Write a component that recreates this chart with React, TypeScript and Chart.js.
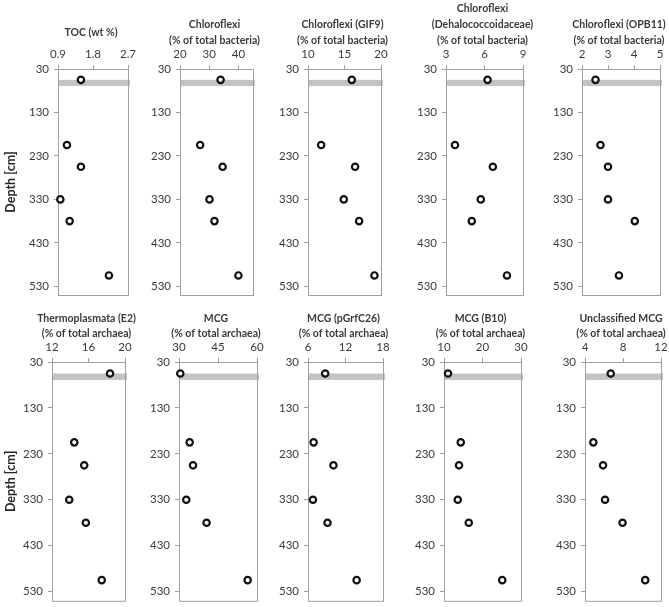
import React, { useEffect, useRef } from "react";
import { Chart, registerables } from "chart.js";

Chart.register(...registerables);

// ---- data ----
const depths = [55, 205, 255, 330, 380, 505];
const depthTicks = [30, 130, 230, 330, 430, 530];
const depthMin = 30;
const depthMax = 550;
const bandDepth = [55, 69];

const tocValues = [1.49, 1.13, 1.49, 0.96, 1.2, 2.21];
const chloroflexiValues = [33.9, 26.9, 34.6, 30.1, 31.8, 40.0];
const gif9Values = [16.0, 11.8, 16.45, 14.9, 17.0, 19.1];
const dehaloValues = [6.24, 3.7, 6.65, 5.71, 5.01, 7.75];
const opb11Values = [2.52, 2.71, 3.0, 3.0, 4.03, 3.42];
const thermoValues = [18.36, 14.44, 15.53, 13.89, 15.71, 17.45];
const mcgValues = [30.5, 34.1, 35.4, 32.8, 40.6, 56.4];
const pgrfValues = [8.75, 6.9, 10.07, 6.79, 9.12, 13.78];
const b10Values = [11.04, 14.35, 13.9, 13.57, 16.43, 25.13];
const unclassValues = [6.71, 4.88, 5.9, 6.11, 7.95, 10.34];

const tocTicks = [0.9, 1.8, 2.7];
const chloroflexiTicks = [20, 30, 40];
const gif9Ticks = [10, 15, 20];
const dehaloTicks = [3, 6, 9];
const opb11Ticks = [2, 3, 4, 5];
const thermoTicks = [12, 16, 20];
const mcgTicks = [30, 45, 60];
const pgrfTicks = [6, 12, 18];
const b10Ticks = [10, 20, 30];
const unclassTicks = [4, 8, 12];

const tocRange = [0.9, 2.7];
const chloroflexiRange = [20, 45];
const gif9Range = [10, 20];
const dehaloRange = [3, 9];
const opb11Range = [2, 5];
const thermoRange = [12, 20];
const mcgRange = [30, 60];
const pgrfRange = [6, 18];
const b10Range = [10, 30];
const unclassRange = [4, 12];

const titles = {
  toc: ["TOC (wt %)"],
  chl: ["Chloroflexi", "(% of total bacteria)"],
  gif9: ["Chloroflexi (GIF9)", "(% of total bacteria)"],
  deh: ["Chloroflexi", "(Dehalococcoidaceae)", "(% of total bacteria)"],
  opb: ["Chloroflexi (OPB11)", "(% of total bacteria)"],
  thermo: ["Thermoplasmata (E2)", "(% of total archaea)"],
  mcg: ["MCG", "(% of total archaea)"],
  pgrf: ["MCG (pGrfC26)", "(% of total archaea)"],
  b10: ["MCG (B10)", "(% of total archaea)"],
  unc: ["Unclassified MCG", "(% of total archaea)"],
};
const depthTitle = "Depth [cm]";

// ---- layout ----
const W = 669;
const H = 607;
const ROW1 = { top: 69, bottom: 295 };
const ROW2 = { top: 362, bottom: 602 };

type Panel = {
  key: string;
  values: number[];
  ticks: number[];
  range: number[];
  title: string[];
  left: number;
  right: number;
  row: { top: number; bottom: number };
  depthLabel: boolean;
  titleGap: number;
};

const panels: Panel[] = [
  { key: "toc", values: tocValues, ticks: tocTicks, range: tocRange, title: titles.toc, left: 58, right: 128, row: ROW1, depthLabel: true, titleGap: 36 },
  { key: "chl", values: chloroflexiValues, ticks: chloroflexiTicks, range: chloroflexiRange, title: titles.chl, left: 180, right: 253, row: ROW1, depthLabel: false, titleGap: 28 },
  { key: "gif9", values: gif9Values, ticks: gif9Ticks, range: gif9Range, title: titles.gif9, left: 308, right: 381, row: ROW1, depthLabel: false, titleGap: 28 },
  { key: "deh", values: dehaloValues, ticks: dehaloTicks, range: dehaloRange, title: titles.deh, left: 446, right: 523, row: ROW1, depthLabel: false, titleGap: 28 },
  { key: "opb", values: opb11Values, ticks: opb11Ticks, range: opb11Range, title: titles.opb, left: 582, right: 660, row: ROW1, depthLabel: false, titleGap: 28 },
  { key: "thermo", values: thermoValues, ticks: thermoTicks, range: thermoRange, title: titles.thermo, left: 52, right: 125, row: ROW2, depthLabel: true, titleGap: 28 },
  { key: "mcg", values: mcgValues, ticks: mcgTicks, range: mcgRange, title: titles.mcg, left: 179, right: 257, row: ROW2, depthLabel: false, titleGap: 28 },
  { key: "pgrf", values: pgrfValues, ticks: pgrfTicks, range: pgrfRange, title: titles.pgrf, left: 308, right: 383, row: ROW2, depthLabel: false, titleGap: 28 },
  { key: "b10", values: b10Values, ticks: b10Ticks, range: b10Range, title: titles.b10, left: 444, right: 521, row: ROW2, depthLabel: false, titleGap: 28 },
  { key: "unc", values: unclassValues, ticks: unclassTicks, range: unclassRange, title: titles.unc, left: 585, right: 661, row: ROW2, depthLabel: false, titleGap: 28 },
];

const AXIS_COLOR = "#a0a0a0";
const TEXT_COLOR = "#3a3a3a";
const BAND_COLOR = "#c3c3c3";
const XH = 24;
const YW = 40;

const decorPlugin = {
  id: "panelDecor",
  beforeDatasetsDraw(chart: any, _args: any, opts: any) {
    const { ctx, chartArea: a, scales } = chart;
    const y1 = scales.y.getPixelForValue(bandDepth[0]);
    const y2 = scales.y.getPixelForValue(bandDepth[1]);
    ctx.save();
    ctx.fillStyle = BAND_COLOR;
    ctx.fillRect(a.left + 1, y1, a.right - a.left + 1, y2 - y1);
    ctx.strokeStyle = AXIS_COLOR;
    ctx.lineWidth = 1;
    ctx.strokeRect(a.left + 0.5, a.top + 0.5, a.right - a.left, a.bottom - a.top);
    ctx.restore();
  },
  afterDraw(chart: any, _args: any, opts: any) {
    const { ctx, chartArea: a } = chart;
    ctx.save();
    ctx.fillStyle = TEXT_COLOR;
    ctx.font = "bold 10.5px Lato";
    ctx.textAlign = "center";
    ctx.textBaseline = "middle";
    const lines: string[] = opts.title || [];
    const n = lines.length;
    const cx = (a.left + a.right) / 2 - 2;
    lines.forEach((t, i) => {
      const y = a.top - opts.titleGap - (n - 1 - i) * opts.lineSpacing;
      ctx.fillText(t, cx, y);
    });
    if (opts.depthLabel) {
      ctx.translate(11, (a.top + a.bottom) / 2);
      ctx.rotate(-Math.PI / 2);
      ctx.fillStyle = "#262626";
      ctx.font = "bold 12.5px Lato";
      ctx.fillText(depthTitle, 0, 0);
    }
    ctx.restore();
  },
};

function PanelChart({ p }: { p: Panel }) {
  const ref = useRef<HTMLCanvasElement | null>(null);
  useEffect(() => {
    if (!ref.current) return;
    const zeroPad = (s: any) => {
      s.paddingLeft = 0;
      s.paddingRight = 0;
      s.paddingTop = 0;
      s.paddingBottom = 0;
    };
    const chart = new Chart(ref.current, {
      type: "scatter",
      data: {
        datasets: [
          {
            data: depths.map((d, i) => ({ x: p.values[i], y: d })),
            pointRadius: 3.2,
            pointBorderWidth: 2.2,
            pointBorderColor: "#111",
            pointBackgroundColor: "#fff",
            borderColor: "#111",
            backgroundColor: "#fff",
            clip: false as any,
          },
        ],
      },
      options: {
        responsive: false,
        animation: false,
        layout: {
          padding: {
            left: p.left - YW,
            top: p.row.top - XH,
            right: W - p.right,
            bottom: H - p.row.bottom,
          },
        },
        plugins: {
          legend: { display: false },
          tooltip: { enabled: false },
          title: { display: false },
          panelDecor: {
            title: p.title,
            titleGap: p.titleGap,
            lineSpacing: p.row === ROW1 ? 16 : 15,
            depthLabel: p.depthLabel,
          },
        } as any,
        scales: {
          x: {
            type: "linear",
            position: "top",
            min: p.range[0],
            max: p.range[1],
            afterBuildTicks: (s: any) => {
              s.ticks = p.ticks.map((v) => ({ value: v }));
            },
            afterFit: (s: any) => {
              s.height = XH;
              zeroPad(s);
            },
            grid: {
              drawOnChartArea: false,
              drawTicks: true,
              tickLength: 4,
              color: AXIS_COLOR,
              lineWidth: 1,
            },
            border: { display: false },
            ticks: {
              color: TEXT_COLOR,
              font: { family: "Lato", size: 11.5 },
              padding: 4,
              maxRotation: 0,
              autoSkip: false,
              callback: (v: any) => String(v),
            },
          },
          y: {
            type: "linear",
            reverse: true,
            min: depthMin,
            max: depthMax,
            afterBuildTicks: (s: any) => {
              s.ticks = depthTicks.map((v) => ({ value: v }));
            },
            afterFit: (s: any) => {
              s.width = YW;
              zeroPad(s);
            },
            grid: {
              drawOnChartArea: false,
              drawTicks: true,
              tickLength: 4,
              color: AXIS_COLOR,
              lineWidth: 1,
            },
            border: { display: false },
            ticks: {
              color: TEXT_COLOR,
              font: { family: "Lato", size: 11.5 },
              padding: 5,
              autoSkip: false,
              callback: (v: any) => String(v),
            },
          },
        },
      },
      plugins: [decorPlugin as any],
    });
    return () => chart.destroy();
  }, [p]);
  return (
    <canvas
      ref={ref}
      width={W}
      height={H}
      style={{ position: "absolute", left: 0, top: 0, width: W, height: H }}
    />
  );
}

export default function App() {
  return (
    <div
      style={{
        position: "absolute",
        left: 0,
        top: 0,
        width: W,
        height: H,
        background: "#fff",
        overflow: "hidden",
      }}
    >
      {panels.map((p) => (
        <PanelChart key={p.key} p={p} />
      ))}
    </div>
  );
}
